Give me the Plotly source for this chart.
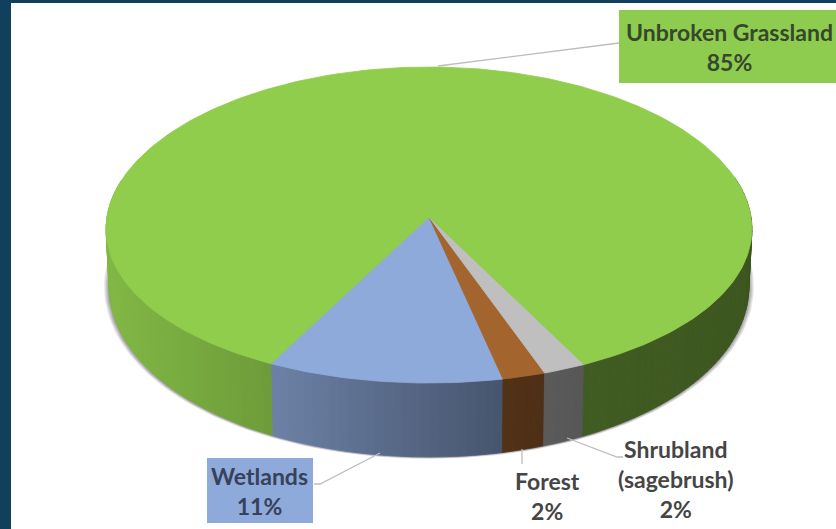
import numpy as np
import plotly.graph_objects as go

# ---- data ----
categories = ["Wetlands", "Forest", "Shrubland (sagebrush)", "Unbroken Grassland"]
values = [11, 2, 2, 85]
label_text = ["Wetlands<br>11%", "Forest<br>2%", "Shrubland<br>(sagebrush)<br>2%", "Unbroken Grassland<br>85%"]
colors = [(142, 170, 219), (163, 100, 46), (191, 191, 191), (144, 205, 76)]

# ---- projection of the tilted disc onto the page ----
W, H = 836, 529
CX = 429
KY = 0.0506               # perspective strength, vertical
KX = 0.075                # perspective strength, horizontal
TOP = dict(a=322.0, b=157.6, y0=217.0)
BOT = dict(a=319.0, b=174.6, y0=273.0)
START_DEG = -27.3         # where the first slice begins, measured from the front


def project(t, lev):
    u, v = np.sin(t), np.cos(t)
    return CX + lev["a"] * u / (1 - KX * v), lev["y0"] + lev["b"] * v / (1 - KY * v)


def shade(rgb, f):
    return "rgb(%d,%d,%d)" % tuple(int(round(c * f)) for c in rgb)


edges = np.radians(START_DEG + 360.0 * np.cumsum([0] + values) / sum(values))

fig = go.Figure()


def poly(x, y, fill, line=None, lw=0.8):
    fig.add_trace(go.Scatter(
        x=list(x), y=list(y), mode="lines", fill="toself", fillcolor=fill,
        line=dict(color=line or fill, width=lw), hoverinfo="skip", showlegend=False))


# soft shadow below the wall
ring = np.linspace(0, 2 * np.pi, 240)
for grow in [5, 3.8, 2.8, 1.8, 0.9]:
    lev = dict(a=BOT["a"] + grow, b=BOT["b"] + grow * 0.3, y0=BOT["y0"] + 0.3)
    sx, sy = project(ring, lev)
    poly(sx, sy, "rgba(70,70,80,0.13)", line="rgba(0,0,0,0)", lw=0)

# wall, strip by strip, shaded by position across the front
shade_x = [105, 270, 500, 590, 750]
shade_f = [0.90, 0.76, 0.50, 0.45, 0.42]
for i, rgb in enumerate(colors):
    t0, t1 = edges[i], edges[i + 1]
    n = max(2, int(np.degrees(t1 - t0) / 1.5))
    ts = np.linspace(t0, t1, n + 1)
    for a, b in zip(ts[:-1], ts[1:]):
        if np.cos((a + b) / 2) < -0.25:
            continue
        xa, ya = project(np.array([a, b]), TOP)
        xb, yb = project(np.array([b, a]), BOT)
        f = float(np.interp((xa[0] + xa[1]) / 2, shade_x, shade_f))
        poly(np.r_[xa, xb, xa[0]], np.r_[ya, yb, ya[0]], shade(rgb, f))

# top face
for i, rgb in enumerate(colors):
    ts = np.linspace(edges[i], edges[i + 1], max(4, int(np.degrees(edges[i + 1] - edges[i]))))
    px, py = project(ts, TOP)
    poly(np.r_[CX, px, CX], np.r_[TOP["y0"], py, TOP["y0"]], shade(rgb, 1.0))

# leader lines
leaders = [
    ([380, 320, 314], [453, 484, 484]),
    ([522, 522], [449, 464]),
    ([567, 617, 623], [438, 457, 457]),
    ([438, 604, 619], [66, 45, 43]),
]
for lx, ly in leaders:
    fig.add_trace(go.Scatter(x=lx, y=ly, mode="lines", line=dict(color="#bdbdbd", width=1.3),
                             hoverinfo="skip", showlegend=False))

# label positions
label_xy = [(259, 491), (547, 496), (676, 479), (729, 47)]
label_color = ["#37415a", "#454545", "#454545", "#37472c"]
annotations = [
    dict(x=x, y=y, xref="x", yref="y", text="<b>%s</b>" % t, showarrow=False, align="center",
         xanchor="center", yanchor="middle", font=dict(family="Lato", size=23, color=c))
    for (x, y), t, c in zip(label_xy, label_text, label_color)
]

# frame and label boxes
shapes = [
    dict(type="rect", x0=0, x1=11, y0=0, y1=H, fillcolor="#10405c", line_width=0, layer="below"),
    dict(type="rect", x0=0, x1=W, y0=0, y1=3, fillcolor="#10405c", line_width=0, layer="below"),
    dict(type="rect", x0=619, x1=W, y0=10, y1=83, fillcolor="#8dcc4e", line_width=0, layer="below"),
    dict(type="rect", x0=207, x1=313, y0=458, y1=523, fillcolor="#8eaadb", line_width=0, layer="below"),
]

fig.update_layout(
    width=W, height=H, autosize=False,
    margin=dict(l=0, r=0, t=0, b=0),
    paper_bgcolor="white", plot_bgcolor="white",
    xaxis=dict(range=[0, W], visible=False, fixedrange=True),
    yaxis=dict(range=[H, 0], visible=False, fixedrange=True),
    shapes=shapes, annotations=annotations, showlegend=False,
)
fig.write_html("out.html", config={"displayModeBar": False},
               post_script="document.body.style.margin='0';document.documentElement.style.overflow='hidden';")
